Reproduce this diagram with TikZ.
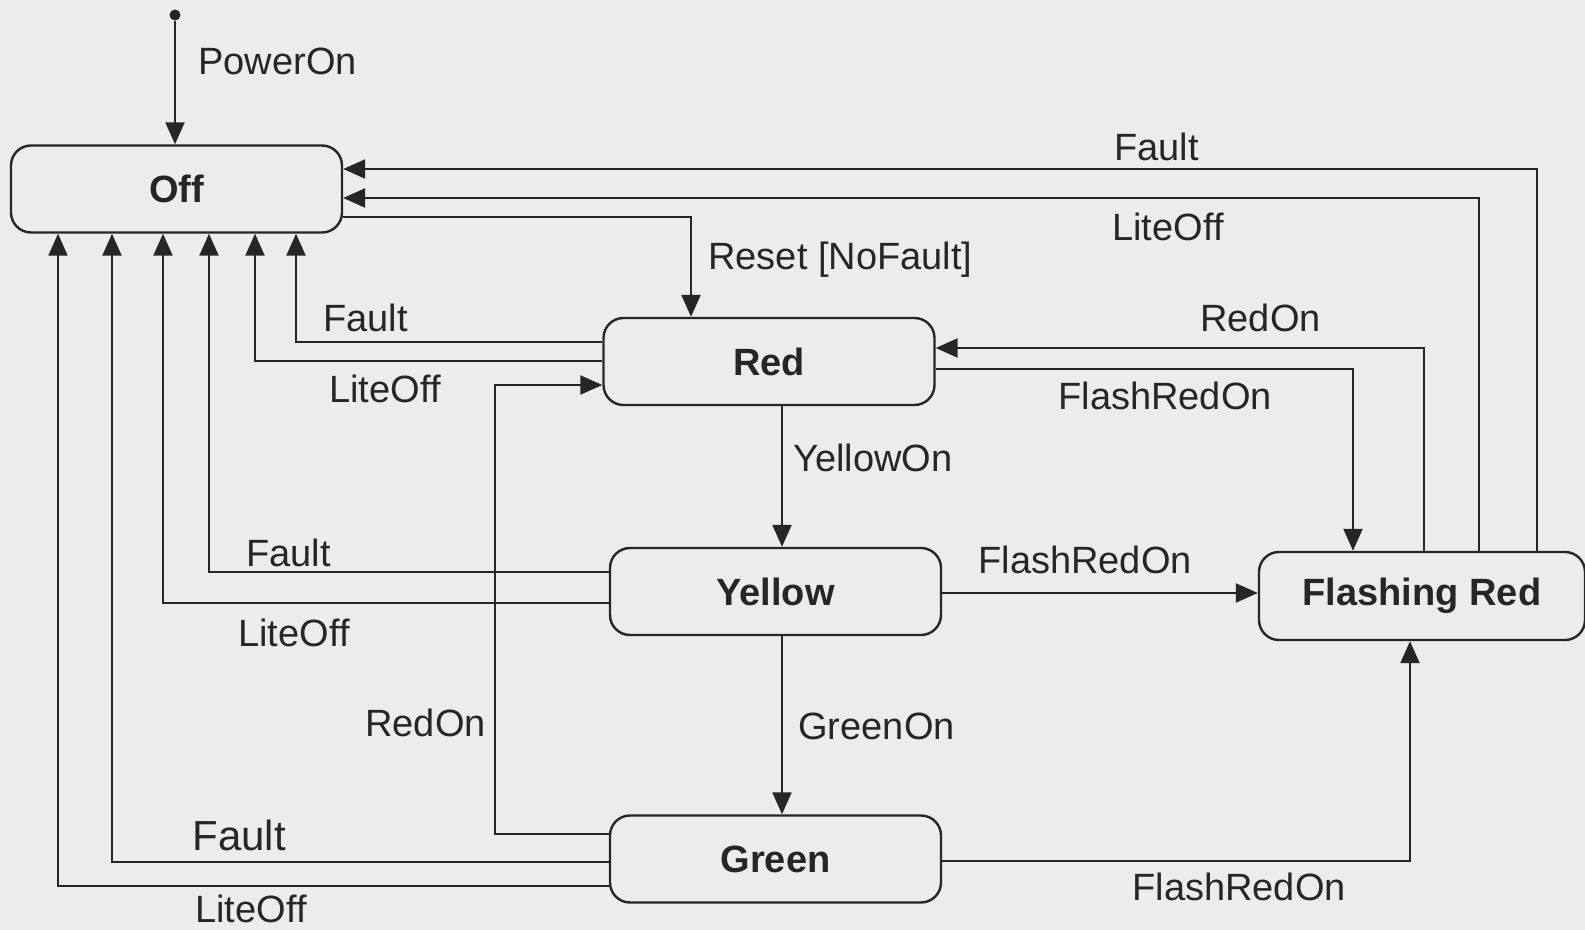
\documentclass[tikz,border=0pt]{standalone}
\usepackage{fontspec}
\setmainfont{Liberation Sans}
\usetikzlibrary{arrows.meta}
\definecolor{ink}{HTML}{262626}
\definecolor{paper}{HTML}{ECECEC}
\tikzset{state/.style={draw=ink,rounded corners=10pt,line width=1.2pt,minimum width=165.5pt,minimum height=43.5pt,inner sep=0pt,font=\fontsize{19}{22}\selectfont\bfseries,text=ink},arr/.style={-{Triangle[length=11pt,width=9.5pt]},line width=1.15pt,ink},lbl/.style={anchor=base west,inner sep=0pt,font=\fontsize{19}{22}\selectfont,text=ink}}
\begin{document}
\begin{tikzpicture}[x=0.5pt,y=-0.5pt]
\useasboundingbox (0,0) rectangle (1585,930);
\fill[paper] (0,0) rectangle (1585,930);
\node[circle,fill=ink,inner sep=0pt,minimum size=5.5pt] (init) at (175,15) {};
\node[state] (off) at (176.5,189) {Off};
\node[state] (red) at (769,361.5) {Red};
\node[state] (yellow) at (775.5,591.5) {Yellow};
\node[state] (green) at (775.5,859) {Green};
\node[state,minimum width=163pt,minimum height=44pt] (flashing) at (1422,596) {Flashing Red};
\draw[arr] (init) -- (init |- off.north);
\draw[arr] (off.east |- 0,217) -| (691,0 |- red.north);
\draw[arr] (1537,0 |- flashing.north) |- (off.east |- 0,169);
\draw[arr] (1479,0 |- flashing.north) |- (off.east |- 0,198);
\draw[arr] (1424,0 |- flashing.north) |- (red.east |- 0,348);
\draw[arr] (red.east |- 0,369) -| (1353,0 |- flashing.north);
\draw[arr] (782,0 |- red.south) -- (782,0 |- yellow.north);
\draw[arr] (782,0 |- yellow.south) -- (782,0 |- green.north);
\draw[arr] (yellow.east |- 0,593) -- (flashing.west |- 0,593);
\draw[arr] (green.east |- 0,861) -| (1410,0 |- flashing.south);
\draw[arr] (green.west |- 0,834) -| (495,385) -- (red.west |- 0,385);
\draw[arr] (red.west |- 0,342) -| (296,0 |- off.south);
\draw[arr] (red.west |- 0,361) -| (255,0 |- off.south);
\draw[arr] (yellow.west |- 0,572) -| (209,0 |- off.south);
\draw[arr] (yellow.west |- 0,603) -| (163,0 |- off.south);
\draw[arr] (green.west |- 0,862) -| (112,0 |- off.south);
\draw[arr] (green.west |- 0,886) -| (58,0 |- off.south);
\node[lbl] (poweron) at (198,75) {PowerOn};
\node[lbl] (faultfr) at (1114,161) {Fault};
\node[lbl] (liteofffr) at (1112,241) {LiteOff};
\node[lbl] (reset) at (708,270) {Reset [NoFault]};
\node[lbl] (redonfr) at (1200,332) {RedOn};
\node[lbl] (flashred) at (1058,410) {FlashRedOn};
\node[lbl] (faultred) at (323,332) {Fault};
\node[lbl] (liteoffred) at (329,403) {LiteOff};
\node[lbl] (yellowon) at (793,472) {YellowOn};
\node[lbl] (faultyellow) at (246,567) {Fault};
\node[lbl] (flashyellow) at (978,573) {FlashRedOn};
\node[lbl] (liteoffyellow) at (238,646) {LiteOff};
\node[lbl] (redongreen) at (365,736) {RedOn};
\node[lbl] (greenon) at (798,739) {GreenOn};
\node[lbl,font=\fontsize{21}{24}\selectfont] (faultgreen) at (192,850) {Fault};
\node[lbl] (flashgreen) at (1132,900) {FlashRedOn};
\node[lbl] (liteoffgreen) at (195,922) {LiteOff};
\end{tikzpicture}
\end{document}
